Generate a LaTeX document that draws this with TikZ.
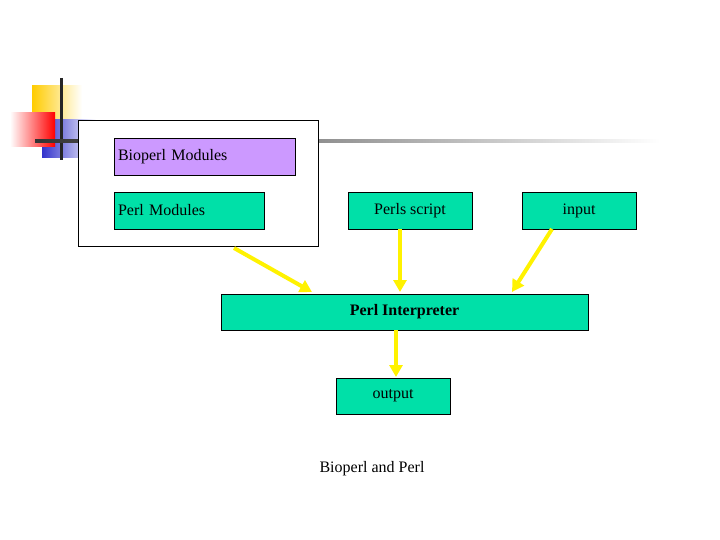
\documentclass[tikz,border=0pt]{standalone}
\usepackage{fontspec}
\setmainfont{Liberation Serif}
\usetikzlibrary{arrows.meta}
\definecolor{boxgreen}{HTML}{00E0A8}
\definecolor{boxpurple}{HTML}{CC99FF}
\definecolor{decoyellow}{HTML}{FFCC00}
\definecolor{decoblue}{HTML}{3333CC}
\tikzset{
 box/.style={draw,fill=boxgreen,inner sep=0pt,font=\fontsize{16}{19}\selectfont},
 flow/.style={line width=4pt,draw=yellow,-{Triangle[length=12pt,width=13pt]}},
}
\begin{document}
\begin{tikzpicture}[x=1pt,y=-1pt]
 \useasboundingbox (0,0) rectangle (720,540);
 % decoration
 \shade[left color=decoyellow,right color=white] (32,86) rectangle (82,120);
 \shade[left color=decoblue,middle color=decoblue,right color=white] (42,120) rectangle (96,158);
 \shade[left color=white,right color=red] (10,113) rectangle (55,147);
 \draw[line width=3pt,black!85] (61,78)--(61,160);
 \shade[left color=black!80,right color=white] (35,139.5) rectangle (660,142.5);
 % outer frame
 \draw[fill=white] (78,120) rectangle (318,246);
 % nodes
 \node[box,fill=boxpurple,minimum width=181pt,minimum height=37pt,text width=173pt] (bio) at (204.5,156.5) {Bioperl Modules};
 \node[box,minimum width=150pt,minimum height=37pt,text width=142pt] (pm) at (189,210.5) {Perl Modules};
 \node[box,minimum width=124pt,minimum height=37pt] (ps) at (410,210.5) {Perls script};
 \node[box,minimum width=114pt,minimum height=37pt] (in) at (579,210.5) {input};
 \node[box,minimum width=367pt,minimum height=36pt,font=\fontsize{16}{19}\selectfont\bfseries] (pi) at (404.5,312) {Perl Interpreter};
 \node[box,minimum width=114pt,minimum height=36pt] (out) at (393,396) {output};
 \node[font=\fontsize{16}{19}\selectfont] (cap) at (372,469) {Bioperl and Perl};
 % arrow ends
 \coordinate (a1) at (234,248);
 \coordinate (a2) at (312,292);
 \coordinate (b1) at (400,229);
 \coordinate (b2) at (400,292);
 \coordinate (c1) at (552,229);
 \coordinate (c2) at (512,292);
 \coordinate (d1) at (396,330);
 \coordinate (d2) at (396,377);
 \draw[flow] (a1)--(a2);
 \draw[flow] (b1)--(b2);
 \draw[flow] (c1)--(c2);
 \draw[flow] (d1)--(d2);
\end{tikzpicture}
\end{document}
